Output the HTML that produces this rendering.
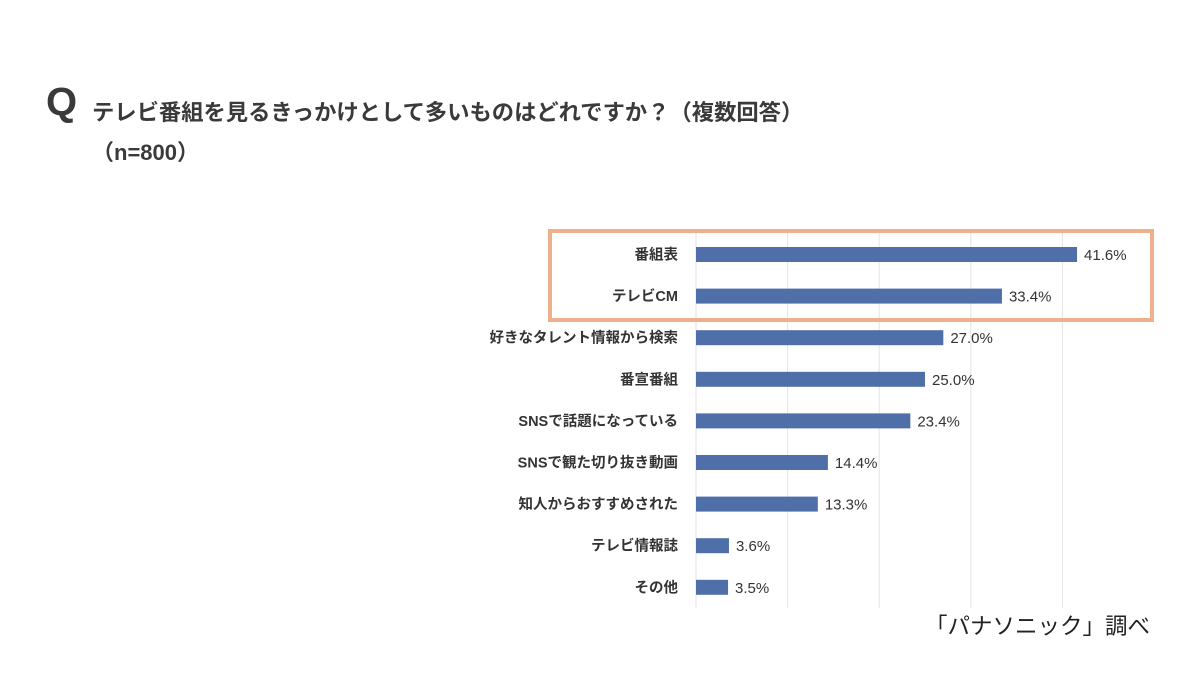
<!DOCTYPE html>
<html><head><meta charset="utf-8"><style>
html,body{margin:0;padding:0;background:#fff;}
body{width:1200px;height:675px;position:relative;overflow:hidden;font-family:"Liberation Sans","Noto Sans CJK JP",sans-serif;color:#333;}
.t{position:absolute;white-space:nowrap;}
</style></head><body>
<div class="t" style="left:46px;top:80px;font-size:40px;font-weight:bold;color:#3a3a3a;">Q</div>
<div class="t" style="left:92px;top:95px;font-size:22.3px;font-weight:bold;color:#3a3a3a;">テレビ番組を見るきっかけとして多いものはどれですか？（複数回答）</div>
<div class="t" style="left:92px;top:135px;font-size:22px;font-weight:bold;color:#3a3a3a;">（n=800）</div>
<div class="t" style="left:925px;top:609px;font-size:22.5px;color:#222;">「パナソニック」調べ</div>
<svg id="chart" width="1200" height="675" style="position:absolute;left:0;top:0;"></svg>
<script>
const categories=["番組表","テレビCM","好きなタレント情報から検索","番宣番組","SNSで話題になっている","SNSで観た切り抜き動画","知人からおすすめされた","テレビ情報誌","その他"];
const values=[41.6,33.4,27.0,25.0,23.4,14.4,13.3,3.6,3.5];
const valueLabels=["41.6%","33.4%","27.0%","25.0%","23.4%","14.4%","13.3%","3.6%","3.5%"];
const gridTicks=[0,10,20,30,40];
const svg=document.getElementById('chart');
const NS='http://www.w3.org/2000/svg';
const x0=696,pxPer=9.16,y0=247,step=41.6,bh=15;
const xs=v=>x0+v*pxPer;
const ys=i=>y0+i*step;
function mk(t,a){const e=document.createElementNS(NS,t);for(const k in a)e.setAttribute(k,a[k]);svg.appendChild(e);return e;}
gridTicks.forEach(g=>{
 const l=mk('line',{x1:xs(g),x2:xs(g),y1:232,y2:608,stroke:'#e3e3e3','stroke-width':1});
 
 
});
categories.forEach((c,i)=>{
 const r=mk('rect',{x:x0,y:ys(i),width:xs(values[i])-x0,height:bh,fill:'#4f6fa8'});
 
 
 const lab=mk('text',{x:678,y:ys(i)+bh/2+5,'text-anchor':'end','font-size':14.5,'font-weight':'bold',fill:'#333'});
 lab.textContent=c;
 
 
 const v=mk('text',{x:xs(values[i])+7,y:ys(i)+bh/2+5.5,'font-size':15,fill:'#333'});
 v.textContent=valueLabels[i];
 
 
});
const box=mk('rect',{x:550,y:231,width:602,height:89,fill:'none',stroke:'#eeb08a','stroke-width':4});


</script>
</body></html>
